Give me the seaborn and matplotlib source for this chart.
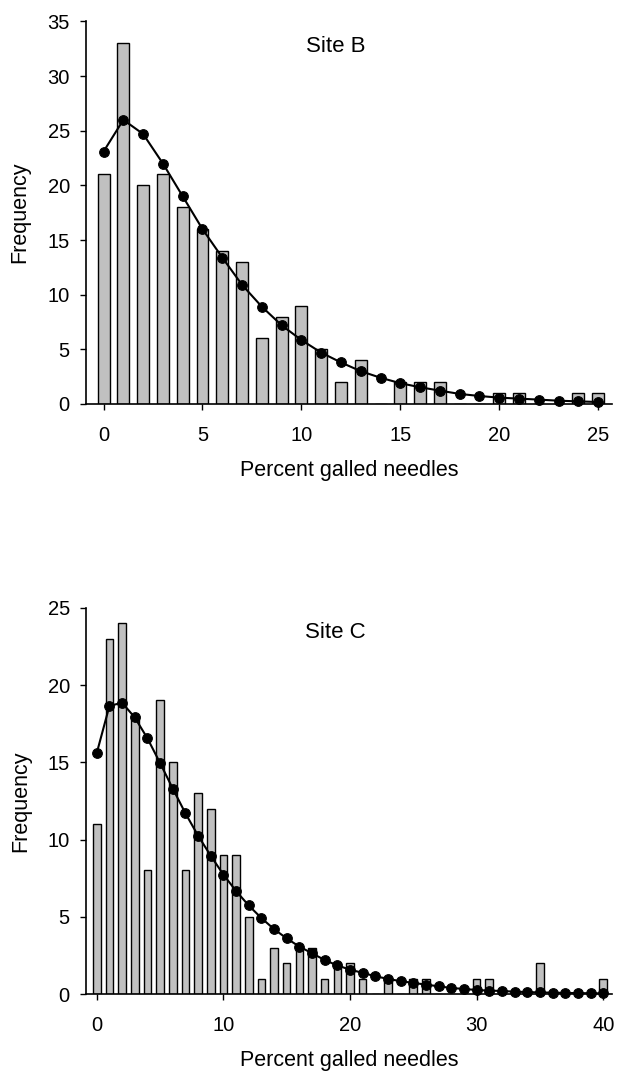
import numpy as np
import pandas as pd
import matplotlib
matplotlib.use("Agg")
import matplotlib.pyplot as plt
import seaborn as sns

# Site B: observed counts (bars) and fitted frequencies (line)
site_b_pct = list(range(0, 26))
site_b_obs = [21, 33, 20, 21, 18, 16, 14, 13, 6, 8, 9, 5, 2, 4, 0, 2, 2, 2, 0, 0, 1, 1, 0, 0, 1, 1]
site_b_fit = [23.1, 26.0, 24.7, 22.0, 19.0, 16.0, 13.4, 10.9, 8.9, 7.2, 5.85, 4.7, 3.8,
              3.0, 2.4, 1.9, 1.53, 1.22, 0.92, 0.73, 0.58, 0.49, 0.4, 0.3, 0.24, 0.18]

# Site C
site_c_pct = list(range(0, 41))
site_c_obs = [11, 23, 24, 18, 8, 19, 15, 8, 13, 12, 9, 9, 5, 1, 3, 2, 3, 3, 1, 2,
              2, 1, 0, 1, 0, 1, 1, 0, 0, 0, 1, 1, 0, 0, 0, 2, 0, 0, 0, 0, 1]
site_c_fit = [15.6, 18.65, 18.85, 17.9, 16.55, 14.95, 13.3, 11.7, 10.25, 8.95,
              7.73, 6.67, 5.73, 4.92, 4.2, 3.6, 3.07, 2.64, 2.2, 1.85,
              1.58, 1.37, 1.15, 0.98, 0.83, 0.72, 0.61, 0.5, 0.39, 0.33,
              0.26, 0.22, 0.2, 0.15, 0.13, 0.1, 0.09, 0.07, 0.06, 0.05, 0.04]

sns.set_style("ticks")
plt.rcParams['font.family'] = ['Liberation Sans', 'DejaVu Sans']
plt.rcParams['text.color'] = 'black'
plt.rcParams['axes.labelcolor'] = 'black'
plt.rcParams['xtick.color'] = 'black'
plt.rcParams['ytick.color'] = 'black'

fig = plt.figure(figsize=(6.17, 10.73), dpi=100)
ax1 = fig.add_axes([0.139, 0.6235, 0.853, 0.3565])
ax2 = fig.add_axes([0.139, 0.0736, 0.853, 0.360])


def panel(ax, pct, obs, fit, ymax, ystep, xticks, xlim, title):
    df = pd.DataFrame({"pct": pct, "obs": obs, "fit": fit})
    sns.barplot(data=df, x="pct", y="obs", native_scale=True, width=0.6,
                color="#c0c0c0", edgecolor="black", linewidth=1.0,
                saturation=1, ax=ax, zorder=2)
    sns.lineplot(data=df, x="pct", y="fit", color="black", linewidth=1.5,
                 marker="o", markersize=7, markeredgecolor="black",
                 ax=ax, zorder=3, clip_on=False)
    ax.set_xlim(*xlim)
    ax.set_ylim(0, ymax)
    ax.set_yticks(np.arange(0, ymax + 1, ystep))
    ax.set_xticks(xticks)
    ax.set_xticklabels([str(t) for t in xticks])
    ax.tick_params(axis="both", labelsize=14.5, length=4.5, width=1,
                   direction="out")
    ax.tick_params(axis="x", pad=11)
    ax.tick_params(axis="y", pad=7)
    ax.set_xlabel("Percent galled needles", fontsize=15.5, labelpad=11)
    ax.set_ylabel("Frequency", fontsize=15.5, labelpad=12)
    ax.text(0.475, 0.935, title, transform=ax.transAxes, fontsize=16,
            ha="center", va="center")
    for s in ["top", "right"]:
        ax.spines[s].set_visible(False)
    for s in ["left", "bottom"]:
        ax.spines[s].set_linewidth(1.2)
        ax.spines[s].set_color("black")


panel(ax1, site_b_pct, site_b_obs, site_b_fit, 35, 5, [0, 5, 10, 15, 20, 25], (-0.9, 25.7), "Site B")
panel(ax2, site_c_pct, site_c_obs, site_c_fit, 25, 5, [0, 10, 20, 30, 40], (-0.87, 40.7), "Site C")

fig.savefig("out.png", dpi=100)
